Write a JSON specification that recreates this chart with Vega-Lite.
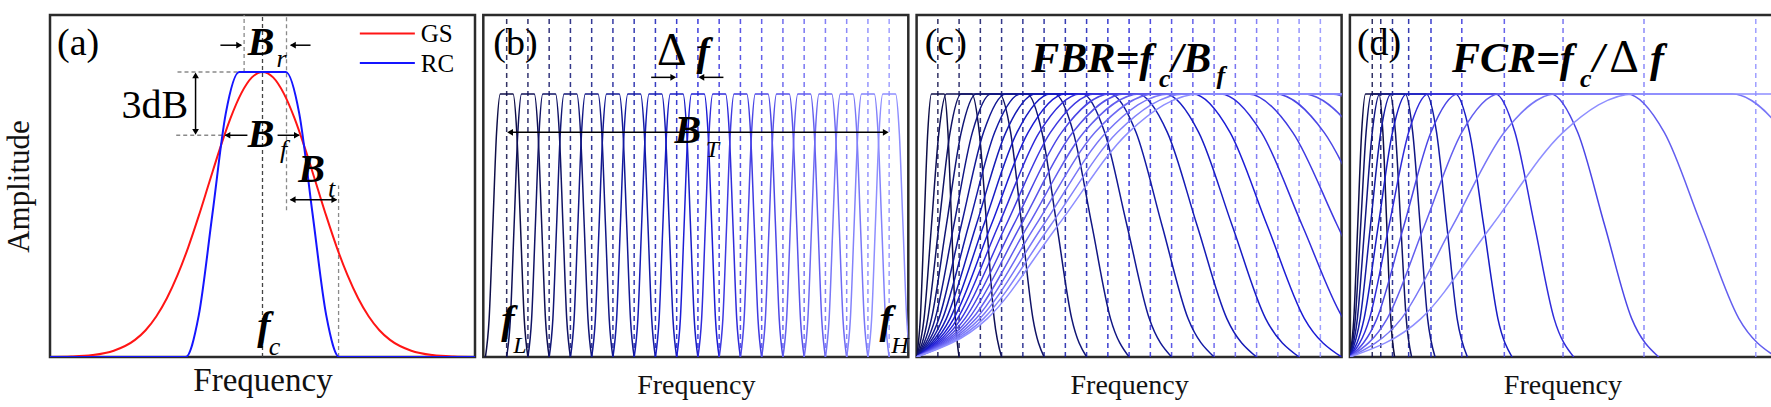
{
"$schema":"https://vega.github.io/schema/vega-lite/v6.json",
"background":"white",
"padding":{"left":1,"top":13,"right":0,"bottom":0},
"spacing":4.3,
"config":{"font":"Liberation Serif","view":{"stroke":"#2b2b2b","strokeWidth":2.5},"axis":{"labels":false,"ticks":false,"domain":false,"grid":false,"titleFont":"Liberation Serif","titleFontWeight":"normal","titleColor":"#111"},"text":{"font":"Liberation Serif","color":"#000"}},
"resolve":{"scale":{"x":"independent","y":"independent","color":"independent","shape":"independent"}},
"datasets":{
"gs":[{"x":-10,"y":0.0004},{"x":-9,"y":0.0018},{"x":-8,"y":0.0067},{"x":-7,"y":0.022},{"x":-6,"y":0.06},{"x":-5.5,"y":0.094},{"x":-5,"y":0.142},{"x":-4.5,"y":0.206},{"x":-4,"y":0.287},{"x":-3.5,"y":0.384},{"x":-3,"y":0.495},{"x":-2.5,"y":0.614},{"x":-2,"y":0.732},{"x":-1.5,"y":0.839},{"x":-1,"y":0.925},{"x":-0.5,"y":0.981},{"x":0,"y":1},{"x":0.5,"y":0.981},{"x":1,"y":0.925},{"x":1.5,"y":0.839},{"x":2,"y":0.732},{"x":2.5,"y":0.614},{"x":3,"y":0.495},{"x":3.5,"y":0.384},{"x":4,"y":0.287},{"x":4.5,"y":0.206},{"x":5,"y":0.142},{"x":5.5,"y":0.094},{"x":6,"y":0.06},{"x":7,"y":0.022},{"x":8,"y":0.0067},{"x":9,"y":0.0018},{"x":10,"y":0.0004}],
"rc":[{"x":-10,"y":0},{"x":-3.62,"y":0},{"x":-3.0,"y":0.146},{"x":-2.36,"y":0.5},{"x":-1.73,"y":0.854},{"x":-1.1,"y":1},{"x":1.1,"y":1},{"x":1.73,"y":0.854},{"x":2.36,"y":0.5},{"x":3.0,"y":0.146},{"x":3.62,"y":0},{"x":10,"y":0}],
"segA":[{"x":-0.865,"y":1.0,"x2":-0.865,"y2":1.2},{"x":1.13,"y":0.515,"x2":1.13,"y2":1.2},{"x":3.58,"y":0,"x2":3.58,"y2":0.602},{"x":-4.0,"y":1.0,"x2":-1.1,"y2":1.0},{"x":-4.06,"y":0.778,"x2":-1.81,"y2":0.778}],
"fcA":[{"x":0,"y":0,"y2":1.2}],
"legA":[{"s":"GS","x":4.58,"x2":7.17,"y":1.135},{"s":"RC","x":4.58,"x2":7.17,"y":1.032}],
"arrA":[{"x":-1.98,"y":1.094,"x2":-1.0,"y2":1.094},{"x":2.26,"y":1.094,"x2":1.33,"y2":1.094},{"x":-3.15,"y":0.79,"x2":-3.15,"y2":0.988},{"x":-0.71,"y":0.778,"x2":-1.75,"y2":0.778},{"x":0.71,"y":0.778,"x2":1.72,"y2":0.778},{"x":1.32,"y":0.552,"x2":3.48,"y2":0.552}],
"headA":[{"x":-1.1,"y":1.094,"h":"r"},{"x":1.43,"y":1.094,"h":"l"},{"x":-3.15,"y":0.988,"h":"u"},{"x":-3.15,"y":0.79,"h":"d"},{"x":-1.65,"y":0.778,"h":"l"},{"x":1.62,"y":0.778,"h":"r"},{"x":1.42,"y":0.552,"h":"l"},{"x":3.38,"y":0.552,"h":"r"}],
"tA_big":[{"x":-0.07,"y":1.059,"t":"B"},{"x":-0.07,"y":0.736,"t":"B"},{"x":2.31,"y":0.613,"t":"B"},{"x":0.07,"y":0.062,"t":"f"}],
"tA_sub":[{"x":0.9,"y":1.017,"t":"r"},{"x":0.99,"y":0.7,"t":"f"},{"x":3.25,"y":0.56,"t":"t"},{"x":0.57,"y":0.006,"t":"c"}],
"tA_3db":[{"x":-5.07,"y":0.837,"t":"3dB"}],
"tA_lab":[{"x":-9.67,"y":1.059,"t":"(a)"}],
"tA_leg":[{"x":7.45,"y":1.104,"t":"GS"},{"x":7.45,"y":1.0,"t":"RC"}],
"dashB":[{"k":0,"x":1.1,"y":0,"y2":1.3},{"k":1,"x":2.1,"y":0,"y2":1.3},{"k":2,"x":3.1,"y":0,"y2":1.3},{"k":3,"x":4.1,"y":0,"y2":1.3},{"k":4,"x":5.1,"y":0,"y2":1.3},{"k":5,"x":6.1,"y":0,"y2":1.3},{"k":6,"x":7.1,"y":0,"y2":1.3},{"k":7,"x":8.1,"y":0,"y2":1.3},{"k":8,"x":9.1,"y":0,"y2":1.3},{"k":9,"x":10.1,"y":0,"y2":1.3},{"k":10,"x":11.1,"y":0,"y2":1.3},{"k":11,"x":12.1,"y":0,"y2":1.3},{"k":12,"x":13.1,"y":0,"y2":1.3},{"k":13,"x":14.1,"y":0,"y2":1.3},{"k":14,"x":15.1,"y":0,"y2":1.3},{"k":15,"x":16.1,"y":0,"y2":1.3},{"k":16,"x":17.1,"y":0,"y2":1.3},{"k":17,"x":18.1,"y":0,"y2":1.3},{"k":18,"x":19.1,"y":0,"y2":1.3}],
"filtB":[
{"k":0,"x":0.1,"y":0},{"k":0,"x":0.275,"y":0.146},{"k":0,"x":0.45,"y":0.5},{"k":0,"x":0.625,"y":0.854},{"k":0,"x":0.8,"y":1},{"k":0,"x":1.4,"y":1},{"k":0,"x":1.575,"y":0.854},{"k":0,"x":1.75,"y":0.5},{"k":0,"x":1.925,"y":0.146},{"k":0,"x":2.1,"y":0},
{"k":1,"x":1.1,"y":0},{"k":1,"x":1.275,"y":0.146},{"k":1,"x":1.45,"y":0.5},{"k":1,"x":1.625,"y":0.854},{"k":1,"x":1.8,"y":1},{"k":1,"x":2.4,"y":1},{"k":1,"x":2.575,"y":0.854},{"k":1,"x":2.75,"y":0.5},{"k":1,"x":2.925,"y":0.146},{"k":1,"x":3.1,"y":0},
{"k":2,"x":2.1,"y":0},{"k":2,"x":2.275,"y":0.146},{"k":2,"x":2.45,"y":0.5},{"k":2,"x":2.625,"y":0.854},{"k":2,"x":2.8,"y":1},{"k":2,"x":3.4,"y":1},{"k":2,"x":3.575,"y":0.854},{"k":2,"x":3.75,"y":0.5},{"k":2,"x":3.925,"y":0.146},{"k":2,"x":4.1,"y":0},
{"k":3,"x":3.1,"y":0},{"k":3,"x":3.275,"y":0.146},{"k":3,"x":3.45,"y":0.5},{"k":3,"x":3.625,"y":0.854},{"k":3,"x":3.8,"y":1},{"k":3,"x":4.4,"y":1},{"k":3,"x":4.575,"y":0.854},{"k":3,"x":4.75,"y":0.5},{"k":3,"x":4.925,"y":0.146},{"k":3,"x":5.1,"y":0},
{"k":4,"x":4.1,"y":0},{"k":4,"x":4.275,"y":0.146},{"k":4,"x":4.45,"y":0.5},{"k":4,"x":4.625,"y":0.854},{"k":4,"x":4.8,"y":1},{"k":4,"x":5.4,"y":1},{"k":4,"x":5.575,"y":0.854},{"k":4,"x":5.75,"y":0.5},{"k":4,"x":5.925,"y":0.146},{"k":4,"x":6.1,"y":0},
{"k":5,"x":5.1,"y":0},{"k":5,"x":5.275,"y":0.146},{"k":5,"x":5.45,"y":0.5},{"k":5,"x":5.625,"y":0.854},{"k":5,"x":5.8,"y":1},{"k":5,"x":6.4,"y":1},{"k":5,"x":6.575,"y":0.854},{"k":5,"x":6.75,"y":0.5},{"k":5,"x":6.925,"y":0.146},{"k":5,"x":7.1,"y":0},
{"k":6,"x":6.1,"y":0},{"k":6,"x":6.275,"y":0.146},{"k":6,"x":6.45,"y":0.5},{"k":6,"x":6.625,"y":0.854},{"k":6,"x":6.8,"y":1},{"k":6,"x":7.4,"y":1},{"k":6,"x":7.575,"y":0.854},{"k":6,"x":7.75,"y":0.5},{"k":6,"x":7.925,"y":0.146},{"k":6,"x":8.1,"y":0},
{"k":7,"x":7.1,"y":0},{"k":7,"x":7.275,"y":0.146},{"k":7,"x":7.45,"y":0.5},{"k":7,"x":7.625,"y":0.854},{"k":7,"x":7.8,"y":1},{"k":7,"x":8.4,"y":1},{"k":7,"x":8.575,"y":0.854},{"k":7,"x":8.75,"y":0.5},{"k":7,"x":8.925,"y":0.146},{"k":7,"x":9.1,"y":0},
{"k":8,"x":8.1,"y":0},{"k":8,"x":8.275,"y":0.146},{"k":8,"x":8.45,"y":0.5},{"k":8,"x":8.625,"y":0.854},{"k":8,"x":8.8,"y":1},{"k":8,"x":9.4,"y":1},{"k":8,"x":9.575,"y":0.854},{"k":8,"x":9.75,"y":0.5},{"k":8,"x":9.925,"y":0.146},{"k":8,"x":10.1,"y":0},
{"k":9,"x":9.1,"y":0},{"k":9,"x":9.275,"y":0.146},{"k":9,"x":9.45,"y":0.5},{"k":9,"x":9.625,"y":0.854},{"k":9,"x":9.8,"y":1},{"k":9,"x":10.4,"y":1},{"k":9,"x":10.575,"y":0.854},{"k":9,"x":10.75,"y":0.5},{"k":9,"x":10.925,"y":0.146},{"k":9,"x":11.1,"y":0},
{"k":10,"x":10.1,"y":0},{"k":10,"x":10.275,"y":0.146},{"k":10,"x":10.45,"y":0.5},{"k":10,"x":10.625,"y":0.854},{"k":10,"x":10.8,"y":1},{"k":10,"x":11.4,"y":1},{"k":10,"x":11.575,"y":0.854},{"k":10,"x":11.75,"y":0.5},{"k":10,"x":11.925,"y":0.146},{"k":10,"x":12.1,"y":0},
{"k":11,"x":11.1,"y":0},{"k":11,"x":11.275,"y":0.146},{"k":11,"x":11.45,"y":0.5},{"k":11,"x":11.625,"y":0.854},{"k":11,"x":11.8,"y":1},{"k":11,"x":12.4,"y":1},{"k":11,"x":12.575,"y":0.854},{"k":11,"x":12.75,"y":0.5},{"k":11,"x":12.925,"y":0.146},{"k":11,"x":13.1,"y":0},
{"k":12,"x":12.1,"y":0},{"k":12,"x":12.275,"y":0.146},{"k":12,"x":12.45,"y":0.5},{"k":12,"x":12.625,"y":0.854},{"k":12,"x":12.8,"y":1},{"k":12,"x":13.4,"y":1},{"k":12,"x":13.575,"y":0.854},{"k":12,"x":13.75,"y":0.5},{"k":12,"x":13.925,"y":0.146},{"k":12,"x":14.1,"y":0},
{"k":13,"x":13.1,"y":0},{"k":13,"x":13.275,"y":0.146},{"k":13,"x":13.45,"y":0.5},{"k":13,"x":13.625,"y":0.854},{"k":13,"x":13.8,"y":1},{"k":13,"x":14.4,"y":1},{"k":13,"x":14.575,"y":0.854},{"k":13,"x":14.75,"y":0.5},{"k":13,"x":14.925,"y":0.146},{"k":13,"x":15.1,"y":0},
{"k":14,"x":14.1,"y":0},{"k":14,"x":14.275,"y":0.146},{"k":14,"x":14.45,"y":0.5},{"k":14,"x":14.625,"y":0.854},{"k":14,"x":14.8,"y":1},{"k":14,"x":15.4,"y":1},{"k":14,"x":15.575,"y":0.854},{"k":14,"x":15.75,"y":0.5},{"k":14,"x":15.925,"y":0.146},{"k":14,"x":16.1,"y":0},
{"k":15,"x":15.1,"y":0},{"k":15,"x":15.275,"y":0.146},{"k":15,"x":15.45,"y":0.5},{"k":15,"x":15.625,"y":0.854},{"k":15,"x":15.8,"y":1},{"k":15,"x":16.4,"y":1},{"k":15,"x":16.575,"y":0.854},{"k":15,"x":16.75,"y":0.5},{"k":15,"x":16.925,"y":0.146},{"k":15,"x":17.1,"y":0},
{"k":16,"x":16.1,"y":0},{"k":16,"x":16.275,"y":0.146},{"k":16,"x":16.45,"y":0.5},{"k":16,"x":16.625,"y":0.854},{"k":16,"x":16.8,"y":1},{"k":16,"x":17.4,"y":1},{"k":16,"x":17.575,"y":0.854},{"k":16,"x":17.75,"y":0.5},{"k":16,"x":17.925,"y":0.146},{"k":16,"x":18.1,"y":0},
{"k":17,"x":17.1,"y":0},{"k":17,"x":17.275,"y":0.146},{"k":17,"x":17.45,"y":0.5},{"k":17,"x":17.625,"y":0.854},{"k":17,"x":17.8,"y":1},{"k":17,"x":18.4,"y":1},{"k":17,"x":18.575,"y":0.854},{"k":17,"x":18.75,"y":0.5},{"k":17,"x":18.925,"y":0.146},{"k":17,"x":19.1,"y":0},
{"k":18,"x":18.1,"y":0},{"k":18,"x":18.275,"y":0.146},{"k":18,"x":18.45,"y":0.5},{"k":18,"x":18.625,"y":0.854},{"k":18,"x":18.8,"y":1},{"k":18,"x":19.4,"y":1},{"k":18,"x":19.575,"y":0.854},{"k":18,"x":19.75,"y":0.5},{"k":18,"x":19.925,"y":0.146},{"k":18,"x":20.1,"y":0}],
"arrB":[{"x":1.26,"y":0.854,"x2":18.94,"y2":0.854},{"x":7.9,"y":1.063,"x2":8.98,"y2":1.063},{"x":11.3,"y":1.063,"x2":10.22,"y2":1.063}],
"headB":[{"x":1.26,"y":0.854,"h":"l"},{"x":18.94,"y":0.854,"h":"r"},{"x":8.94,"y":1.063,"h":"r"},{"x":10.26,"y":1.063,"h":"l"}],
"tB_lab":[{"x":0.47,"y":1.147,"t":"(b)"}],
"tB_big":[{"x":10.35,"y":1.109,"t":"f"},{"x":9.62,"y":0.812,"t":"B"},{"x":1.16,"y":0.09,"t":"f"},{"x":18.96,"y":0.09,"t":"f"}],
"tB_delta":[{"x":8.87,"y":1.109,"t":"Δ"}],
"tB_sub":[{"x":10.78,"y":0.759,"t":"T"},{"x":1.72,"y":0.014,"t":"L"},{"x":19.6,"y":0.014,"t":"H"}],
"dashC":[{"k":0,"x":1,"y":0,"y2":1.3},{"k":1,"x":2,"y":0,"y2":1.3},{"k":2,"x":3,"y":0,"y2":1.3},{"k":3,"x":4,"y":0,"y2":1.3},{"k":4,"x":5,"y":0,"y2":1.3},{"k":5,"x":6,"y":0,"y2":1.3},{"k":6,"x":7,"y":0,"y2":1.3},{"k":7,"x":8,"y":0,"y2":1.3},{"k":8,"x":9,"y":0,"y2":1.3},{"k":9,"x":10,"y":0,"y2":1.3},{"k":10,"x":11,"y":0,"y2":1.3},{"k":11,"x":12,"y":0,"y2":1.3},{"k":12,"x":13,"y":0,"y2":1.3},{"k":13,"x":14,"y":0,"y2":1.3},{"k":14,"x":15,"y":0,"y2":1.3},{"k":15,"x":16,"y":0,"y2":1.3},{"k":16,"x":17,"y":0,"y2":1.3},{"k":17,"x":18,"y":0,"y2":1.3},{"k":18,"x":19,"y":0,"y2":1.3}],
"filtC":[
{"k":0,"x":0,"y":0},{"k":0,"x":0.175,"y":0.146},{"k":0,"x":0.35,"y":0.5},{"k":0,"x":0.525,"y":0.854},{"k":0,"x":0.7,"y":1},{"k":0,"x":1.3,"y":1},{"k":0,"x":1.475,"y":0.854},{"k":0,"x":1.65,"y":0.5},{"k":0,"x":1.825,"y":0.146},{"k":0,"x":2,"y":0},
{"k":1,"x":0,"y":0},{"k":1,"x":0.35,"y":0.146},{"k":1,"x":0.7,"y":0.5},{"k":1,"x":1.05,"y":0.854},{"k":1,"x":1.4,"y":1},{"k":1,"x":2.6,"y":1},{"k":1,"x":2.95,"y":0.854},{"k":1,"x":3.3,"y":0.5},{"k":1,"x":3.65,"y":0.146},{"k":1,"x":4,"y":0},
{"k":2,"x":0,"y":0},{"k":2,"x":0.525,"y":0.146},{"k":2,"x":1.05,"y":0.5},{"k":2,"x":1.575,"y":0.854},{"k":2,"x":2.1,"y":1},{"k":2,"x":3.9,"y":1},{"k":2,"x":4.425,"y":0.854},{"k":2,"x":4.95,"y":0.5},{"k":2,"x":5.475,"y":0.146},{"k":2,"x":6,"y":0},
{"k":3,"x":0,"y":0},{"k":3,"x":0.7,"y":0.146},{"k":3,"x":1.4,"y":0.5},{"k":3,"x":2.1,"y":0.854},{"k":3,"x":2.8,"y":1},{"k":3,"x":5.2,"y":1},{"k":3,"x":5.9,"y":0.854},{"k":3,"x":6.6,"y":0.5},{"k":3,"x":7.3,"y":0.146},{"k":3,"x":8,"y":0},
{"k":4,"x":0,"y":0},{"k":4,"x":0.875,"y":0.146},{"k":4,"x":1.75,"y":0.5},{"k":4,"x":2.625,"y":0.854},{"k":4,"x":3.5,"y":1},{"k":4,"x":6.5,"y":1},{"k":4,"x":7.375,"y":0.854},{"k":4,"x":8.25,"y":0.5},{"k":4,"x":9.125,"y":0.146},{"k":4,"x":10,"y":0},
{"k":5,"x":0,"y":0},{"k":5,"x":1.05,"y":0.146},{"k":5,"x":2.1,"y":0.5},{"k":5,"x":3.15,"y":0.854},{"k":5,"x":4.2,"y":1},{"k":5,"x":7.8,"y":1},{"k":5,"x":8.85,"y":0.854},{"k":5,"x":9.9,"y":0.5},{"k":5,"x":10.95,"y":0.146},{"k":5,"x":12,"y":0},
{"k":6,"x":0,"y":0},{"k":6,"x":1.225,"y":0.146},{"k":6,"x":2.45,"y":0.5},{"k":6,"x":3.675,"y":0.854},{"k":6,"x":4.9,"y":1},{"k":6,"x":9.1,"y":1},{"k":6,"x":10.325,"y":0.854},{"k":6,"x":11.55,"y":0.5},{"k":6,"x":12.775,"y":0.146},{"k":6,"x":14,"y":0},
{"k":7,"x":0,"y":0},{"k":7,"x":1.4,"y":0.146},{"k":7,"x":2.8,"y":0.5},{"k":7,"x":4.2,"y":0.854},{"k":7,"x":5.6,"y":1},{"k":7,"x":10.4,"y":1},{"k":7,"x":11.8,"y":0.854},{"k":7,"x":13.2,"y":0.5},{"k":7,"x":14.6,"y":0.146},{"k":7,"x":16,"y":0},
{"k":8,"x":0,"y":0},{"k":8,"x":1.575,"y":0.146},{"k":8,"x":3.15,"y":0.5},{"k":8,"x":4.725,"y":0.854},{"k":8,"x":6.3,"y":1},{"k":8,"x":11.7,"y":1},{"k":8,"x":13.275,"y":0.854},{"k":8,"x":14.85,"y":0.5},{"k":8,"x":16.425,"y":0.146},{"k":8,"x":18,"y":0},
{"k":9,"x":0,"y":0},{"k":9,"x":1.75,"y":0.146},{"k":9,"x":3.5,"y":0.5},{"k":9,"x":5.25,"y":0.854},{"k":9,"x":7,"y":1},{"k":9,"x":13,"y":1},{"k":9,"x":14.75,"y":0.854},{"k":9,"x":16.5,"y":0.5},{"k":9,"x":18.25,"y":0.146},{"k":9,"x":20,"y":0},
{"k":10,"x":0,"y":0},{"k":10,"x":1.925,"y":0.146},{"k":10,"x":3.85,"y":0.5},{"k":10,"x":5.775,"y":0.854},{"k":10,"x":7.7,"y":1},{"k":10,"x":14.3,"y":1},{"k":10,"x":16.225,"y":0.854},{"k":10,"x":18.15,"y":0.5},{"k":10,"x":20.075,"y":0.146},{"k":10,"x":22,"y":0},
{"k":11,"x":0,"y":0},{"k":11,"x":2.1,"y":0.146},{"k":11,"x":4.2,"y":0.5},{"k":11,"x":6.3,"y":0.854},{"k":11,"x":8.4,"y":1},{"k":11,"x":15.6,"y":1},{"k":11,"x":17.7,"y":0.854},{"k":11,"x":19.8,"y":0.5},{"k":11,"x":21.9,"y":0.146},{"k":11,"x":24,"y":0},
{"k":12,"x":0,"y":0},{"k":12,"x":2.275,"y":0.146},{"k":12,"x":4.55,"y":0.5},{"k":12,"x":6.825,"y":0.854},{"k":12,"x":9.1,"y":1},{"k":12,"x":16.9,"y":1},{"k":12,"x":19.175,"y":0.854},{"k":12,"x":21.45,"y":0.5},{"k":12,"x":23.725,"y":0.146},
{"k":13,"x":0,"y":0},{"k":13,"x":2.45,"y":0.146},{"k":13,"x":4.9,"y":0.5},{"k":13,"x":7.35,"y":0.854},{"k":13,"x":9.8,"y":1},{"k":13,"x":18.2,"y":1},{"k":13,"x":20.65,"y":0.854},{"k":13,"x":23.1,"y":0.5},{"k":13,"x":25.55,"y":0.146},
{"k":14,"x":0,"y":0},{"k":14,"x":2.625,"y":0.146},{"k":14,"x":5.25,"y":0.5},{"k":14,"x":7.875,"y":0.854},{"k":14,"x":10.5,"y":1},{"k":14,"x":19.5,"y":1},{"k":14,"x":22.125,"y":0.854},{"k":14,"x":24.75,"y":0.5},
{"k":15,"x":0,"y":0},{"k":15,"x":2.8,"y":0.146},{"k":15,"x":5.6,"y":0.5},{"k":15,"x":8.4,"y":0.854},{"k":15,"x":11.2,"y":1},{"k":15,"x":20.8,"y":1},{"k":15,"x":23.6,"y":0.854},
{"k":16,"x":0,"y":0},{"k":16,"x":2.975,"y":0.146},{"k":16,"x":5.95,"y":0.5},{"k":16,"x":8.925,"y":0.854},{"k":16,"x":11.9,"y":1},{"k":16,"x":22.1,"y":1},{"k":16,"x":25.075,"y":0.854},
{"k":17,"x":0,"y":0},{"k":17,"x":3.15,"y":0.146},{"k":17,"x":6.3,"y":0.5},{"k":17,"x":9.45,"y":0.854},{"k":17,"x":12.6,"y":1},{"k":17,"x":23.4,"y":1},{"k":17,"x":26.55,"y":0.854},
{"k":18,"x":0,"y":0},{"k":18,"x":3.325,"y":0.146},{"k":18,"x":6.65,"y":0.5},{"k":18,"x":9.975,"y":0.854},{"k":18,"x":13.3,"y":1},{"k":18,"x":24.7,"y":1}],
"tC_lab":[{"x":0.38,"y":1.147,"t":"(c)"}],
"tC_bigL":[{"x":5.4,"y":1.084,"t":"FBR=f"},{"x":12.0,"y":1.084,"t":"/B"}],
"tC_sub":[{"x":11.68,"y":1.025,"t":"c"},{"x":14.32,"y":1.037,"t":"f"}],
"dashD":[{"k":0,"x":1.052,"y":0,"y2":1.3},{"k":1,"x":1.452,"y":0,"y2":1.3},{"k":2,"x":2.004,"y":0,"y2":1.3},{"k":3,"x":2.765,"y":0,"y2":1.3},{"k":4,"x":3.816,"y":0,"y2":1.3},{"k":5,"x":5.266,"y":0,"y2":1.3},{"k":6,"x":7.267,"y":0,"y2":1.3},{"k":7,"x":10.03,"y":0,"y2":1.3},{"k":8,"x":13.84,"y":0,"y2":1.3},{"k":9,"x":19.1,"y":0,"y2":1.3}],
"filtD":[
{"k":0,"x":0,"y":0},{"k":0,"x":0.184,"y":0.146},{"k":0,"x":0.368,"y":0.5},{"k":0,"x":0.552,"y":0.854},{"k":0,"x":0.736,"y":1},{"k":0,"x":1.368,"y":1},{"k":0,"x":1.552,"y":0.854},{"k":0,"x":1.736,"y":0.5},{"k":0,"x":1.92,"y":0.146},{"k":0,"x":2.104,"y":0},
{"k":1,"x":0,"y":0},{"k":1,"x":0.254,"y":0.146},{"k":1,"x":0.508,"y":0.5},{"k":1,"x":0.762,"y":0.854},{"k":1,"x":1.016,"y":1},{"k":1,"x":1.888,"y":1},{"k":1,"x":2.142,"y":0.854},{"k":1,"x":2.396,"y":0.5},{"k":1,"x":2.65,"y":0.146},{"k":1,"x":2.904,"y":0},
{"k":2,"x":0,"y":0},{"k":2,"x":0.351,"y":0.146},{"k":2,"x":0.701,"y":0.5},{"k":2,"x":1.052,"y":0.854},{"k":2,"x":1.403,"y":1},{"k":2,"x":2.605,"y":1},{"k":2,"x":2.956,"y":0.854},{"k":2,"x":3.307,"y":0.5},{"k":2,"x":3.657,"y":0.146},{"k":2,"x":4.008,"y":0},
{"k":3,"x":0,"y":0},{"k":3,"x":0.484,"y":0.146},{"k":3,"x":0.968,"y":0.5},{"k":3,"x":1.452,"y":0.854},{"k":3,"x":1.936,"y":1},{"k":3,"x":3.595,"y":1},{"k":3,"x":4.078,"y":0.854},{"k":3,"x":4.562,"y":0.5},{"k":3,"x":5.046,"y":0.146},{"k":3,"x":5.53,"y":0},
{"k":4,"x":0,"y":0},{"k":4,"x":0.668,"y":0.146},{"k":4,"x":1.336,"y":0.5},{"k":4,"x":2.003,"y":0.854},{"k":4,"x":2.671,"y":1},{"k":4,"x":4.961,"y":1},{"k":4,"x":5.629,"y":0.854},{"k":4,"x":6.296,"y":0.5},{"k":4,"x":6.964,"y":0.146},{"k":4,"x":7.632,"y":0},
{"k":5,"x":0,"y":0},{"k":5,"x":0.922,"y":0.146},{"k":5,"x":1.843,"y":0.5},{"k":5,"x":2.765,"y":0.854},{"k":5,"x":3.686,"y":1},{"k":5,"x":6.846,"y":1},{"k":5,"x":7.767,"y":0.854},{"k":5,"x":8.689,"y":0.5},{"k":5,"x":9.61,"y":0.146},{"k":5,"x":10.532,"y":0},
{"k":6,"x":0,"y":0},{"k":6,"x":1.272,"y":0.146},{"k":6,"x":2.543,"y":0.5},{"k":6,"x":3.815,"y":0.854},{"k":6,"x":5.087,"y":1},{"k":6,"x":9.447,"y":1},{"k":6,"x":10.719,"y":0.854},{"k":6,"x":11.991,"y":0.5},{"k":6,"x":13.262,"y":0.146},{"k":6,"x":14.534,"y":0},
{"k":7,"x":0,"y":0},{"k":7,"x":1.755,"y":0.146},{"k":7,"x":3.511,"y":0.5},{"k":7,"x":5.266,"y":0.854},{"k":7,"x":7.021,"y":1},{"k":7,"x":13.039,"y":1},{"k":7,"x":14.794,"y":0.854},{"k":7,"x":16.55,"y":0.5},{"k":7,"x":18.305,"y":0.146},{"k":7,"x":20.06,"y":0},
{"k":8,"x":0,"y":0},{"k":8,"x":2.422,"y":0.146},{"k":8,"x":4.844,"y":0.5},{"k":8,"x":7.266,"y":0.854},{"k":8,"x":9.688,"y":1},{"k":8,"x":17.992,"y":1},{"k":8,"x":20.414,"y":0.854},{"k":8,"x":22.836,"y":0.5},{"k":8,"x":25.258,"y":0.146},
{"k":9,"x":0,"y":0},{"k":9,"x":3.343,"y":0.146},{"k":9,"x":6.685,"y":0.5},{"k":9,"x":10.028,"y":0.854},{"k":9,"x":13.37,"y":1},{"k":9,"x":24.83,"y":1}],
"tD_lab":[{"x":0.33,"y":1.147,"t":"(d)"}],
"tD_bigL":[{"x":4.8,"y":1.084,"t":"FCR=f"}],
"tD_big":[{"x":11.7,"y":1.084,"t":"/"},{"x":14.45,"y":1.084,"t":"f"}],
"tD_delta":[{"x":12.9,"y":1.084,"t":"Δ"}],
"tD_sub":[{"x":11.1,"y":1.025,"t":"c"}]
},
"hconcat":[
{"width":425,"height":342,
 "encoding":{
  "x":{"field":"x","type":"quantitative","scale":{"domain":[-10,10],"nice":false,"zero":false},"axis":{"title":"Frequency","titleFont":"Liberation Serif","titleFontSize":33,"titlePadding":33,"titleBaseline":"alphabetic"}},
  "y":{"field":"y","type":"quantitative","scale":{"domain":[0,1.2],"nice":false},"axis":{"title":"Amplitude","titleFont":"Liberation Serif","titleFontSize":31,"titlePadding":22,"titleBaseline":"alphabetic"}}},
 "layer":[
  {"data":{"name":"segA"},"mark":{"type":"rule","strokeDash":[4,3],"color":"#8a8a8a","strokeWidth":1.3},"encoding":{"x2":{"field":"x2"},"y2":{"field":"y2"}}},
  {"data":{"name":"fcA"},"mark":{"type":"rule","strokeDash":[4,3],"color":"#444444","strokeWidth":1.3},"encoding":{"y2":{"field":"y2"}}},
  {"data":{"name":"gs"},"mark":{"type":"line","interpolate":"monotone","color":"#ff1515","strokeWidth":2,"clip":true},"encoding":{}},
  {"data":{"name":"rc"},"mark":{"type":"line","interpolate":"monotone","color":"#1515ff","strokeWidth":2,"clip":true},"encoding":{}},
  {"data":{"name":"legA"},"mark":{"type":"rule","strokeWidth":2},"encoding":{"x2":{"field":"x2"},"color":{"field":"s","type":"nominal","scale":{"domain":["GS","RC"],"range":["#ff1515","#1515ff"]},"legend":null}}},
  {"data":{"name":"arrA"},"mark":{"type":"rule","color":"#000000","strokeWidth":1.5},"encoding":{"x2":{"field":"x2"},"y2":{"field":"y2"}}},
  {"data":{"name":"headA"},"mark":{"type":"point","filled":true,"color":"#000000","size":45,"opacity":1},"encoding":{"shape":{"field":"h","type":"nominal","scale":{"domain":["r","l","u","d"],"range":["triangle-right","triangle-left","triangle-up","triangle-down"]},"legend":null}}},
  {"data":{"name":"tA_big"},"mark":{"type":"text","font":"Liberation Serif","fontSize":40,"fontStyle":"italic","fontWeight":"bold","align":"center","baseline":"alphabetic"},"encoding":{"text":{"field":"t"}}},
  {"data":{"name":"tA_sub"},"mark":{"type":"text","font":"Liberation Serif","fontSize":26,"fontStyle":"italic","align":"center","baseline":"alphabetic"},"encoding":{"text":{"field":"t"}}},
  {"data":{"name":"tA_3db"},"mark":{"type":"text","font":"Liberation Serif","fontSize":40,"align":"center","baseline":"alphabetic"},"encoding":{"text":{"field":"t"}}},
  {"data":{"name":"tA_lab"},"mark":{"type":"text","font":"Liberation Serif","fontSize":38,"align":"left","baseline":"alphabetic"},"encoding":{"text":{"field":"t"}}},
  {"data":{"name":"tA_leg"},"mark":{"type":"text","font":"Liberation Serif","fontSize":25,"align":"left","baseline":"alphabetic"},"encoding":{"text":{"field":"t"}}}
 ]},
{"width":425,"height":342,
 "encoding":{
  "x":{"field":"x","type":"quantitative","scale":{"domain":[0,20],"nice":false,"zero":false},"axis":{"title":"Frequency","titleFont":"Liberation Serif","titleFontSize":28,"titlePadding":36,"titleBaseline":"alphabetic"}},
  "y":{"field":"y","type":"quantitative","scale":{"domain":[0,1.3],"nice":false},"axis":null}},
 "layer":[
  {"data":{"name":"dashB"},"mark":{"type":"rule","strokeDash":[5,4],"strokeWidth":1.5,"opacity":0.85},"encoding":{"y2":{"field":"y2"},"color":{"field":"k","type":"quantitative","scale":{"domain":[0,9,18],"range":["#0e0e48","#1c1cd6","#8e8eff"]},"legend":null}}},
  {"data":{"name":"filtB"},"mark":{"type":"line","interpolate":"monotone","strokeWidth":1.5,"clip":true},"encoding":{"color":{"field":"k","type":"quantitative","scale":{"domain":[0,9,18],"range":["#0e0e48","#1c1cd6","#8e8eff"]},"legend":null},"detail":{"field":"k","type":"nominal"}}},
  {"data":{"name":"arrB"},"mark":{"type":"rule","color":"#000000","strokeWidth":1.5},"encoding":{"x2":{"field":"x2"},"y2":{"field":"y2"}}},
  {"data":{"name":"headB"},"mark":{"type":"point","filled":true,"color":"#000000","size":45,"opacity":1},"encoding":{"shape":{"field":"h","type":"nominal","scale":{"domain":["r","l","u","d"],"range":["triangle-right","triangle-left","triangle-up","triangle-down"]},"legend":null}}},
  {"data":{"name":"tB_lab"},"mark":{"type":"text","font":"Liberation Serif","fontSize":38,"align":"left","baseline":"alphabetic"},"encoding":{"text":{"field":"t"}}},
  {"data":{"name":"tB_big"},"mark":{"type":"text","font":"Liberation Serif","fontSize":40,"fontStyle":"italic","fontWeight":"bold","align":"center","baseline":"alphabetic"},"encoding":{"text":{"field":"t"}}},
  {"data":{"name":"tB_delta"},"mark":{"type":"text","font":"Liberation Serif","fontSize":46,"align":"center","baseline":"alphabetic"},"encoding":{"text":{"field":"t"}}},
  {"data":{"name":"tB_sub"},"mark":{"type":"text","font":"Liberation Serif","fontSize":24,"fontStyle":"italic","align":"center","baseline":"alphabetic"},"encoding":{"text":{"field":"t"}}}
 ]},
{"width":425,"height":342,
 "encoding":{
  "x":{"field":"x","type":"quantitative","scale":{"domain":[0,20],"nice":false,"zero":false},"axis":{"title":"Frequency","titleFont":"Liberation Serif","titleFontSize":28,"titlePadding":36,"titleBaseline":"alphabetic"}},
  "y":{"field":"y","type":"quantitative","scale":{"domain":[0,1.3],"nice":false},"axis":null}},
 "layer":[
  {"data":{"name":"dashC"},"mark":{"type":"rule","strokeDash":[5,4],"strokeWidth":1.5,"opacity":0.85},"encoding":{"y2":{"field":"y2"},"color":{"field":"k","type":"quantitative","scale":{"domain":[0,9,18],"range":["#0e0e48","#1c1cd6","#8e8eff"]},"legend":null}}},
  {"data":{"name":"filtC"},"mark":{"type":"line","interpolate":"monotone","strokeWidth":1.5,"clip":true},"encoding":{"color":{"field":"k","type":"quantitative","scale":{"domain":[0,9,18],"range":["#0e0e48","#1c1cd6","#8e8eff"]},"legend":null},"detail":{"field":"k","type":"nominal"}}},
  {"data":{"name":"tC_lab"},"mark":{"type":"text","font":"Liberation Serif","fontSize":38,"align":"left","baseline":"alphabetic"},"encoding":{"text":{"field":"t"}}},
  {"data":{"name":"tC_bigL"},"mark":{"type":"text","font":"Liberation Serif","fontSize":42,"fontStyle":"italic","fontWeight":"bold","align":"left","baseline":"alphabetic"},"encoding":{"text":{"field":"t"}}},
  {"data":{"name":"tC_sub"},"mark":{"type":"text","font":"Liberation Serif","fontSize":26,"fontStyle":"italic","fontWeight":"bold","align":"center","baseline":"alphabetic"},"encoding":{"text":{"field":"t"}}}
 ]},
{"width":425,"height":342,
 "encoding":{
  "x":{"field":"x","type":"quantitative","scale":{"domain":[0,20],"nice":false,"zero":false},"axis":{"title":"Frequency","titleFont":"Liberation Serif","titleFontSize":28,"titlePadding":36,"titleBaseline":"alphabetic"}},
  "y":{"field":"y","type":"quantitative","scale":{"domain":[0,1.3],"nice":false},"axis":null}},
 "layer":[
  {"data":{"name":"dashD"},"mark":{"type":"rule","strokeDash":[5,4],"strokeWidth":1.5,"opacity":0.85},"encoding":{"y2":{"field":"y2"},"color":{"field":"k","type":"quantitative","scale":{"domain":[0,4.5,9],"range":["#0e0e48","#1c1cd6","#8e8eff"]},"legend":null}}},
  {"data":{"name":"filtD"},"mark":{"type":"line","interpolate":"monotone","strokeWidth":1.5,"clip":true},"encoding":{"color":{"field":"k","type":"quantitative","scale":{"domain":[0,4.5,9],"range":["#0e0e48","#1c1cd6","#8e8eff"]},"legend":null},"detail":{"field":"k","type":"nominal"}}},
  {"data":{"name":"tD_lab"},"mark":{"type":"text","font":"Liberation Serif","fontSize":38,"align":"left","baseline":"alphabetic"},"encoding":{"text":{"field":"t"}}},
  {"data":{"name":"tD_bigL"},"mark":{"type":"text","font":"Liberation Serif","fontSize":42,"fontStyle":"italic","fontWeight":"bold","align":"left","baseline":"alphabetic"},"encoding":{"text":{"field":"t"}}},
  {"data":{"name":"tD_big"},"mark":{"type":"text","font":"Liberation Serif","fontSize":42,"fontStyle":"italic","fontWeight":"bold","align":"center","baseline":"alphabetic"},"encoding":{"text":{"field":"t"}}},
  {"data":{"name":"tD_delta"},"mark":{"type":"text","font":"Liberation Serif","fontSize":46,"align":"center","baseline":"alphabetic"},"encoding":{"text":{"field":"t"}}},
  {"data":{"name":"tD_sub"},"mark":{"type":"text","font":"Liberation Serif","fontSize":26,"fontStyle":"italic","fontWeight":"bold","align":"center","baseline":"alphabetic"},"encoding":{"text":{"field":"t"}}}
 ]}
]
}
